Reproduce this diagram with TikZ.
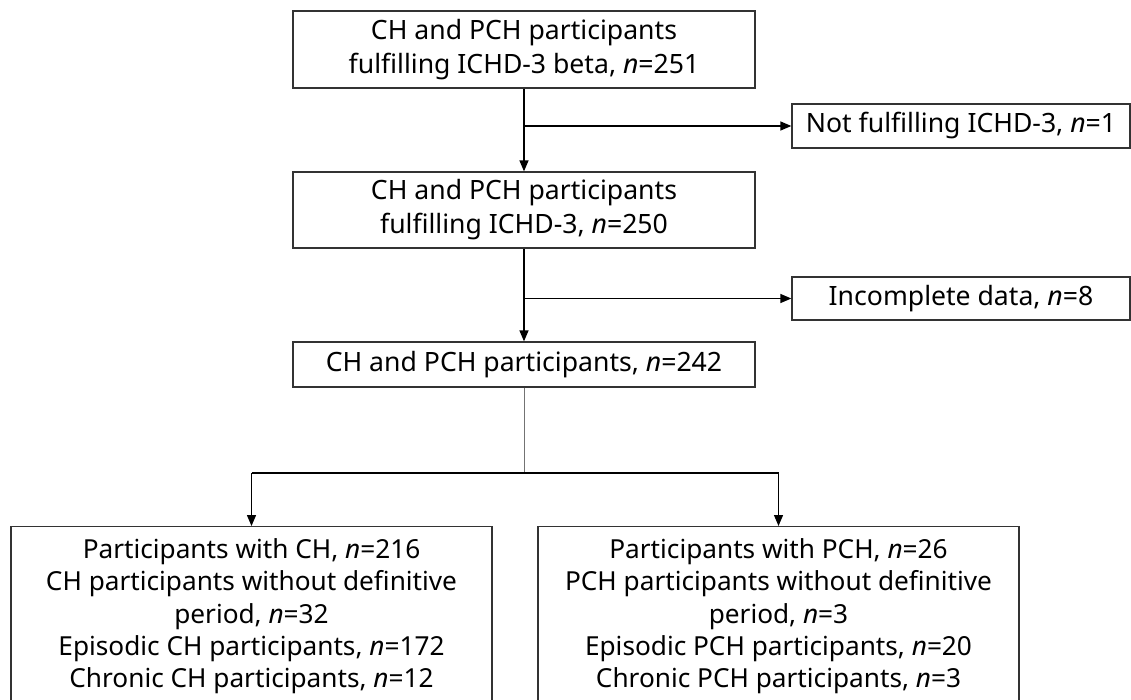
\documentclass[tikz,border=0pt]{standalone}
\usepackage{fontspec}
\setmainfont{Noto Sans}
\usetikzlibrary{arrows.meta}
\tikzset{
  box/.style={draw=black!80, line width=1.3pt, align=center, inner sep=0pt, font=\fontsize{26.6}{34}\selectfont},
  bigbox/.style={draw=black!80, line width=1.3pt, align=center, inner xsep=0pt, inner ysep=0pt, anchor=north, font=\fontsize{26.2}{32.2}\selectfont},
  conn/.style={line width=1.3pt, draw=black},
  arr/.style={conn, -{Triangle[length=11pt,width=9pt]}},
  thin/.style={line width=1pt, draw=black!55}
}
\begin{document}
\begin{tikzpicture}[x=1pt,y=-1pt]
\useasboundingbox (0,0) rectangle (1131,699);
\clip (0,0) rectangle (1131,699);
\fill[white] (0,0) rectangle (1131,699);
\node[box, minimum width=462pt, minimum height=77pt] (b1) at (524,49.5) {CH and PCH participants\\fulfilling ICHD-3 beta, \textit{n}=251};
\node[box, minimum width=462pt, minimum height=76pt] (b2) at (524,210) {CH and PCH participants\\fulfilling ICHD-3, \textit{n}=250};
\node[box, minimum width=462pt, minimum height=45pt] (b3) at (524,364.5) {CH and PCH participants, \textit{n}=242};
\node[box, minimum width=338pt, minimum height=44pt] (ex1) at (961,126) {Not fulfilling ICHD-3, \textit{n}=1};
\node[box, minimum width=338pt, minimum height=43pt] (ex2) at (961,298.5) {Incomplete data, \textit{n}=8};
\node[bigbox, minimum width=481pt] (bl) at (251.5,526) {\rule{0pt}{32pt}Participants with CH, \textit{n}=216\\CH participants without definitive\\period, \textit{n}=32\\Episodic CH participants, \textit{n}=172\\Chronic CH participants, \textit{n}=12\rule[-30pt]{0pt}{30pt}};
\node[bigbox, minimum width=481pt] (br) at (778.5,526) {\rule{0pt}{32pt}Participants with PCH, \textit{n}=26\\PCH participants without definitive\\period, \textit{n}=3\\Episodic PCH participants, \textit{n}=20\\Chronic PCH participants, \textit{n}=3\rule[-30pt]{0pt}{30pt}};
\coordinate (s1) at (524,126);
\coordinate (s2) at (524,298.5);
\coordinate (s3) at (524,473);
\draw[arr] (b1.south) -- (b2.north);
\draw[arr] (s1) -- (ex1.west);
\draw[arr] (b2.south) -- (b3.north);
\draw[arr] (s2) -- (ex2.west);
\draw[thin] (b3.south) -- (s3);
\draw[conn] (s3 -| bl.north) -- (s3 -| br.north);
\draw[arr] (s3 -| bl.north) -- (bl.north);
\draw[arr] (s3 -| br.north) -- (br.north);
\end{tikzpicture}
\end{document}
